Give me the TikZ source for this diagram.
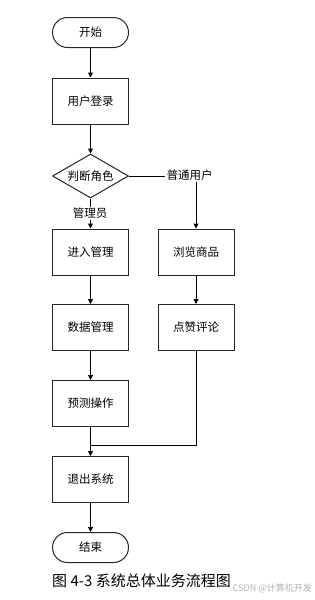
\documentclass[tikz,border=0pt]{standalone}
\usepackage{fontspec}
\setmainfont{Noto Sans CJK SC}
\usetikzlibrary{shapes.geometric,arrows.meta}
\begin{document}
\begin{tikzpicture}[x=1pt,y=-1pt,
  every node/.style={font=\fontsize{11.5}{13}\selectfont},
  box/.style={draw=black!85,line width=1pt,minimum width=76pt,minimum height=46pt,inner sep=0pt},
  term/.style={draw=black!85,line width=1pt,rounded corners=15pt,minimum width=76pt,minimum height=30pt,inner sep=0pt},
  dec/.style={draw=black!85,line width=1pt,diamond,minimum width=76pt,minimum height=44pt,inner sep=0pt,shape aspect=1.73},
  lbl/.style={inner sep=1pt,text height=8.5pt,text depth=1.5pt},
  arr/.style={draw=black,line width=1pt,-{Triangle[length=5pt,width=5pt]}},
  ln/.style={draw=black,line width=1pt}]
\useasboundingbox (0,0) rectangle (315,600);
\node[term] (start) at (90.5,32.5) {开始};
\node[box] (login) at (90.5,101) {用户登录};
\node[dec] (role) at (90.5,176) {判断角色};
\node[lbl] (user) at (189.5,176) {普通用户};
\node[lbl] (admin) at (90,213.5) {管理员};
\node[box] (enter) at (90.5,252) {进入管理};
\node[box] (data) at (90.5,327.5) {数据管理};
\node[box] (pred) at (90.5,403.5) {预测操作};
\node[box] (browse) at (196,252) {浏览商品};
\node[box] (like) at (196,327.5) {点赞评论};
\node[box] (exit) at (90.5,479.5) {退出系统};
\node[term] (end) at (90.5,547.5) {结束};
\coordinate (merge) at (90.5,445);
\node[font=\fontsize{15}{17}\selectfont,anchor=west,inner sep=0pt] (cap) at (52,580.5) {图 4-3 系统总体业务流程图};
\node[font=\fontsize{9}{10}\selectfont,text=black!30,anchor=east,inner sep=0pt] (wm) at (312,588) {CSDN @计算机开发};
\draw[arr] (start) -- (login);
\draw[arr] (login) -- (role);
\draw[ln] (role.east) -- (user.west);
\draw[arr] (user.south -| browse) -- (browse.north);
\draw[ln] (role.south) -- (admin.north -| role);
\draw[arr] (admin.south -| role) -- (enter.north);
\draw[arr] (enter) -- (data);
\draw[arr] (data) -- (pred);
\draw[arr] (browse) -- (like);
\draw[ln] (like.south) |- (merge);
\draw[arr] (pred) -- (exit);
\draw[arr] (exit) -- (end);
\end{tikzpicture}
\end{document}
